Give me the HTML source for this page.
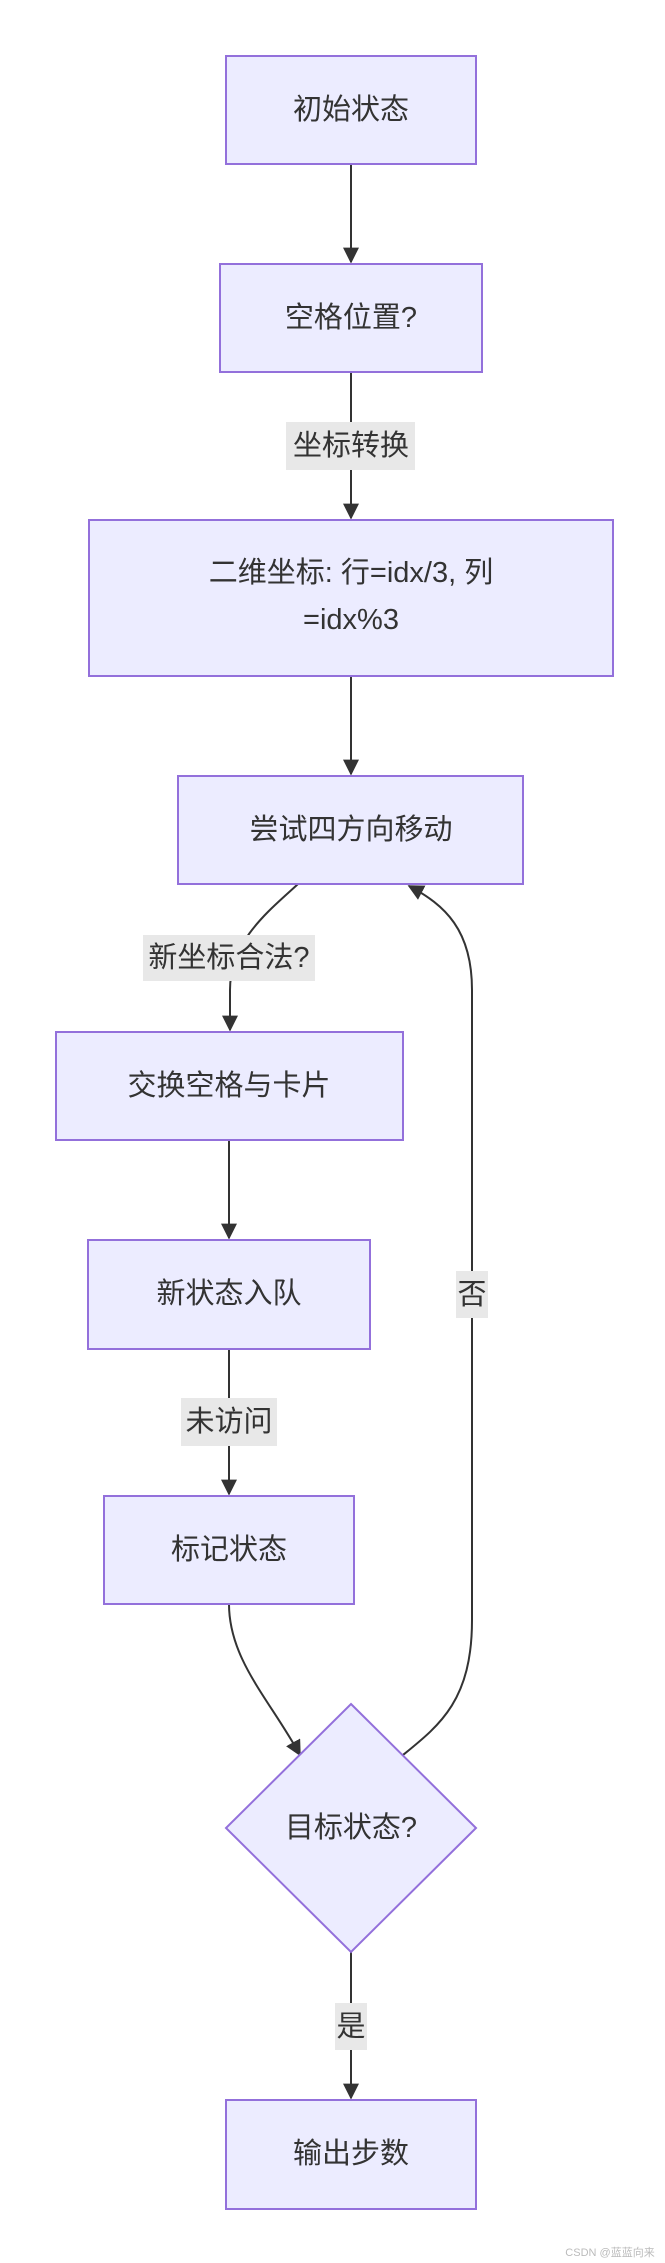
<!DOCTYPE html>
<html><head><meta charset="utf-8"><style>
html,body{margin:0;padding:0;background:#fff;}
svg{display:block}
text{font-family:"Liberation Sans","Noto Sans CJK SC",sans-serif;font-size:29px;fill:#333;text-anchor:middle;dominant-baseline:central}
.n{fill:#ECECFF;stroke:#9370DB;stroke-width:2}
.e{fill:none;stroke:#333;stroke-width:2}
.l{fill:#e8e8e8}
</style></head><body>
<svg width="665" height="2263" viewBox="0 0 665 2263" xmlns="http://www.w3.org/2000/svg">
<defs><marker id="a" viewBox="0 0 10 10" refX="9" refY="5" markerWidth="8" markerHeight="8" markerUnits="userSpaceOnUse" orient="auto"><path d="M0,0L10,5L0,10z" fill="#333"/></marker>
<marker id="b" viewBox="0 0 10 10" refX="9" refY="5" markerWidth="16" markerHeight="16" markerUnits="userSpaceOnUse" orient="auto"><path d="M0,0L10,5L0,10z" fill="#333"/></marker></defs>
<!-- edges -->
<path class="e" d="M351,164V262" marker-end="url(#b)"/>
<path class="e" d="M351,372V518" marker-end="url(#b)"/>
<path class="e" d="M351,676V774" marker-end="url(#b)"/>
<path class="e" d="M298,884C270,910 230,940 230,990V1030" marker-end="url(#b)"/>
<path class="e" d="M229,1140V1238" marker-end="url(#b)"/>
<path class="e" d="M229,1349V1494" marker-end="url(#b)"/>
<path class="e" d="M229,1604C229,1660 270,1700 300,1755" marker-end="url(#b)"/>
<path class="e" d="M403,1755C440,1725 472,1700 472,1620V990C472,930 445,905 409,886" marker-end="url(#b)"/>
<path class="e" d="M351,1952V2098" marker-end="url(#b)"/>
<!-- edge labels -->
<rect class="l" x="286" y="422" width="129" height="48"/><text x="351" y="446">坐标转换</text>
<rect class="l" x="143" y="935" width="172" height="46"/><text x="229" y="958">新坐标合法?</text>
<rect class="l" x="181" y="1398" width="96" height="48"/><text x="229" y="1422">未访问</text>
<rect class="l" x="456" y="1271" width="32" height="47"/><text x="472" y="1295">否</text>
<rect class="l" x="335" y="2003" width="32" height="47"/><text x="351" y="2027">是</text>
<!-- nodes -->
<rect class="n" x="226" y="56" width="250" height="108"/><text x="351" y="110">初始状态</text>
<rect class="n" x="220" y="264" width="262" height="108"/><text x="351" y="318">空格位置?</text>
<rect class="n" x="89" y="520" width="524" height="156"/><text x="351" y="573">二维坐标: 行=idx/3, 列</text><text x="351" y="620">=idx%3</text>
<rect class="n" x="178" y="776" width="345" height="108"/><text x="351" y="830">尝试四方向移动</text>
<rect class="n" x="56" y="1032" width="347" height="108"/><text x="229" y="1086">交换空格与卡片</text>
<rect class="n" x="88" y="1240" width="282" height="109"/><text x="229" y="1294">新状态入队</text>
<rect class="n" x="104" y="1496" width="250" height="108"/><text x="229" y="1550">标记状态</text>
<path class="n" d="M351,1704L476,1828L351,1952L226,1828z"/><text x="351" y="1828">目标状态?</text>
<rect class="n" x="226" y="2100" width="250" height="109"/><text x="351" y="2154">输出步数</text>
<text x="610" y="2253" style="font-size:11px;fill:#bbb">CSDN @蓝蓝向来</text>
</svg>
</body></html>
